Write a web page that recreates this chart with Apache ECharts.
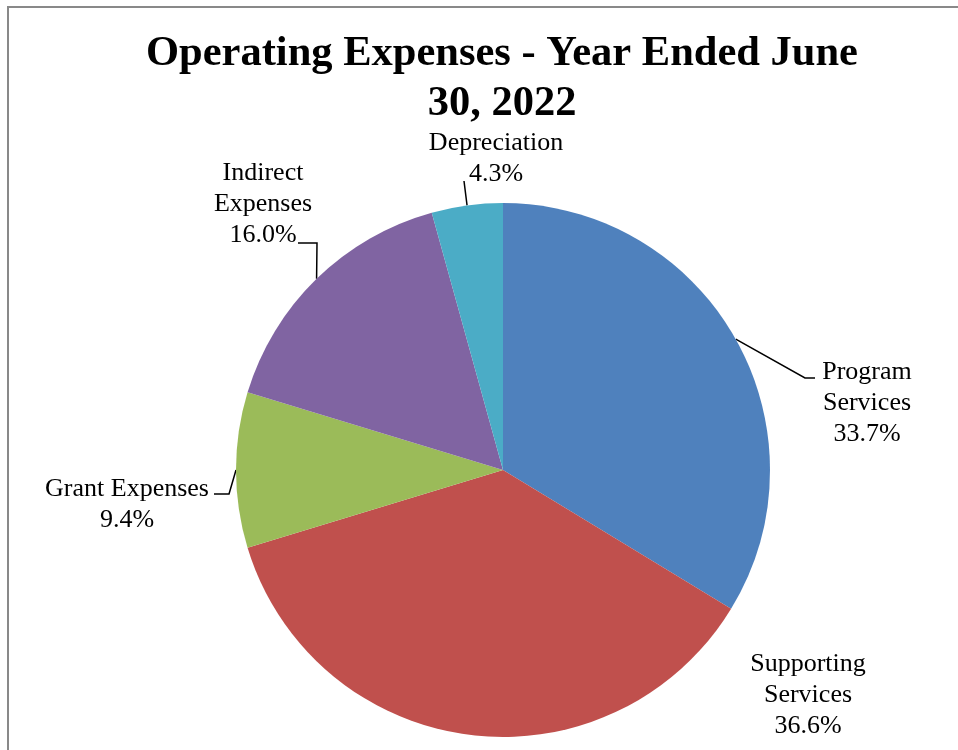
<!DOCTYPE html>
<html>
<head>
<meta charset="utf-8">
<script src="https://cdn.jsdelivr.net/npm/echarts@6/dist/echarts.min.js"></script>
<style>
html,body{margin:0;padding:0;background:#fff;}
#chart{width:958px;height:750px;}
</style>
</head>
<body>
<div id="chart"></div>
<script>
const categories = ['Program\nServices', 'Supporting\nServices', 'Grant Expenses', 'Indirect\nExpenses', 'Depreciation'];
const values = [33.7, 36.6, 9.4, 16.0, 4.3];
const colors = ['#4F81BD', '#C0504D', '#9BBB59', '#8064A2', '#4BACC6'];

// label placement (text block centre) and leader-line bend/end points
const labelPlacement = [
  { x: 867, y: 403, line: [[805, 378], [815, 378]] },
  { x: 808, y: 695, line: null },
  { x: 127, y: 505, line: [[229, 494], [214, 494]] },
  { x: 263, y: 204, line: [[317, 243], [298, 243]] },
  { x: 496, y: 159, line: [[464, 181], [464, 181]] }
];

const chart = echarts.init(document.getElementById('chart'));
const fontFamily = '"Liberation Serif", "Times New Roman", serif';

chart.setOption({
  animation: false,
  backgroundColor: '#ffffff',
  title: {
    text: 'Operating Expenses - Year Ended June\n30, 2022',
    left: 497,
    top: 24,
    textAlign: 'center',
    textStyle: { fontFamily: fontFamily, fontSize: 42.5, fontWeight: 'bold', color: '#000', lineHeight: 50 }
  },
  graphic: [{
    type: 'rect',
    shape: { x: 8, y: 7, width: 1000, height: 800 },
    style: { fill: 'none', stroke: '#898989', lineWidth: 2 },
    silent: true
  }],
  series: [{
    type: 'pie',
    center: [503, 470],
    radius: 267,
    startAngle: 90,
    clockwise: true,
    avoidLabelOverlap: false,
    itemStyle: { borderWidth: 0 },
    data: categories.map((c, i) => ({
      name: c,
      value: values[i],
      itemStyle: { color: colors[i] },
      labelLine: { show: labelPlacement[i].line !== null }
    })),
    label: {
      show: true,
      position: 'outside',
      fontFamily: fontFamily,
      fontSize: 26,
      lineHeight: 31,
      color: '#000',
      align: 'center',
      formatter: p => p.name + '\n' + p.value.toFixed(1) + '%'
    },
    labelLine: {
      show: true,
      length: 10,
      length2: 10,
      lineStyle: { color: '#000', width: 1.5 }
    },
    labelLayout: function (params) {
      const lp = labelPlacement[params.dataIndex];
      const res = { x: lp.x, y: lp.y, align: 'center', verticalAlign: 'middle' };
      if (lp.line && params.labelLinePoints) {
        res.labelLinePoints = [params.labelLinePoints[0], lp.line[0], lp.line[1]];
      }
      return res;
    }
  }]
});
</script>
</body>
</html>
